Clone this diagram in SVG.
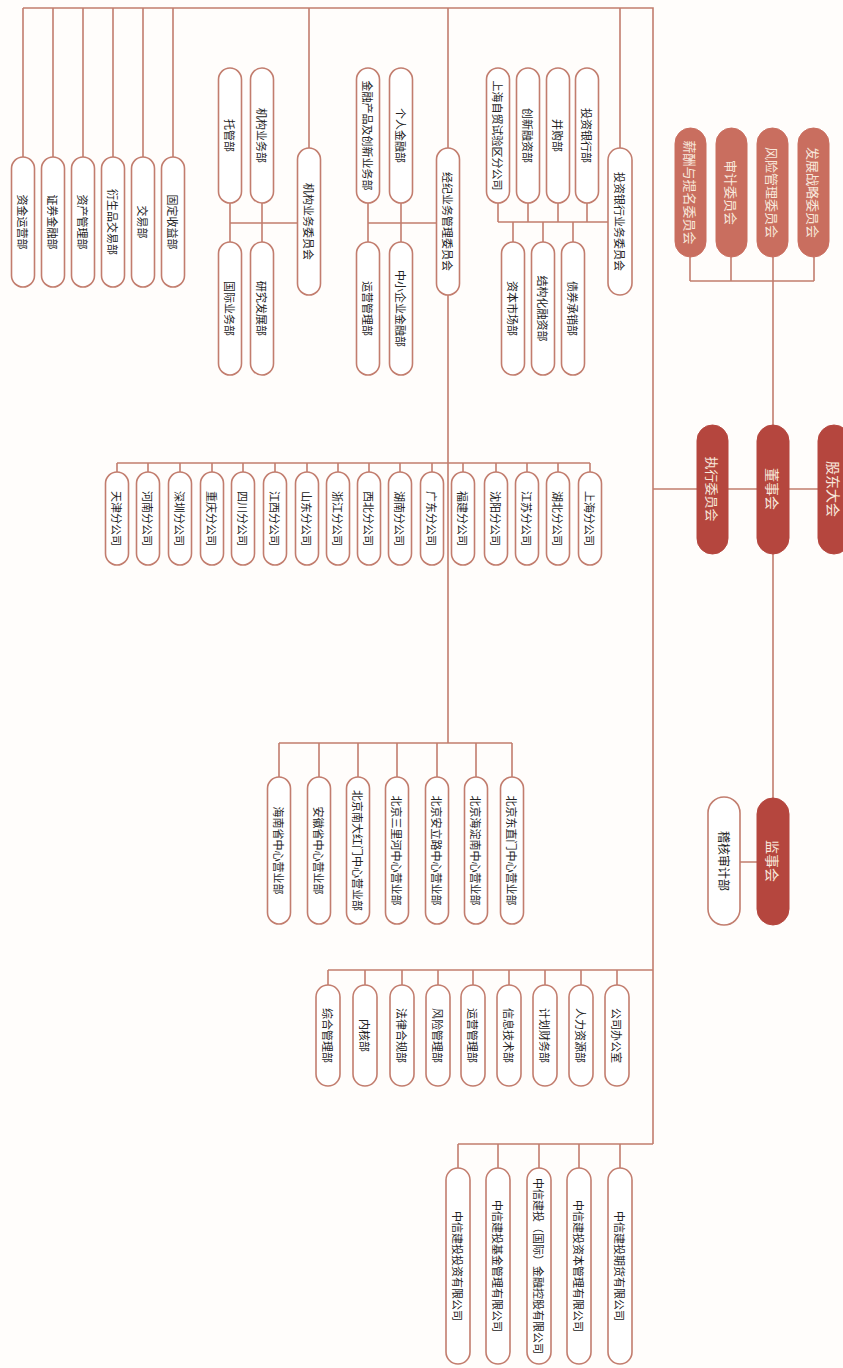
<svg xmlns="http://www.w3.org/2000/svg" width="843" height="1368" viewBox="0 0 843 1368">
<style>
.bg{fill:#fffdfb}
.ln{fill:none;stroke:#c27d6e;stroke-width:1.6}
.bx{fill:#ffffff;stroke:#c27d6e;stroke-width:1.6}
.dk{fill:#b5463e;stroke:#b5463e;stroke-width:1}
.md{fill:#c96e5f;stroke:#c96e5f;stroke-width:1}
.t{font-family:"Noto Sans CJK SC","Noto Sans CJK JP",sans-serif;font-size:11px;fill:#222;text-anchor:middle;dominant-baseline:central}
.tl{font-family:"Noto Sans CJK SC","Noto Sans CJK JP",sans-serif;font-size:13px;fill:#f8e8dc;text-anchor:middle;dominant-baseline:central}
.tb{font-family:"Noto Sans CJK SC","Noto Sans CJK JP",sans-serif;font-size:14px;fill:#f8e8dc;text-anchor:middle;dominant-baseline:central}
</style>
<rect class="bg" x="0" y="0" width="843" height="1368"/>
<g id="connectors">
<path class="ln" d="M23,8H653V1144"/>
<path class="ln" d="M23,8V157M53,8V157M83,8V157M113,8V157M143,8V157M173,8V157"/>
<path class="ln" d="M620,8V148M608,222H498M587,203V222M558,203V222M528,203V222M498,203V222M573,222V242M543,222V242M513,222V242"/>
<path class="ln" d="M448,8V148M448,295V743M437,223H368M401,203V242M368,203V242"/>
<path class="ln" d="M309,8V148M298,223H230M262,203V242M230,203V242"/>
<path class="ln" d="M117,463H590M117,463V472M148,463V472M180,463V472M212,463V472M243,463V472M275,463V472M307,463V472M338,463V472M369,463V472M400,463V472M432,463V472M463,463V472M496,463V472M527,463V472M558,463V472M590,463V472"/>
<path class="ln" d="M279,743H512M279,743V777M319,743V777M358,743V777M397,743V777M437,743V777M476,743V777M512,743V777"/>
<path class="ln" d="M328,970H653M328,970V985M365,970V985M402,970V985M438,970V985M473,970V985M509,970V985M545,970V985M581,970V985M617,970V985"/>
<path class="ln" d="M458,1144H653M458,1144V1168M498,1144V1168M539,1144V1168M579,1144V1168M620,1144V1168"/>
<path class="ln" d="M653,489H697M728,489H757M789,489H818"/>
<path class="ln" d="M773,281V425M773,554V798M740,862H757"/>
<path class="ln" d="M690,281H814M690,257V281M731,257V281M773,257V281M814,257V281"/>
</g>
<g id="n-gudong"><rect class="dk" x="818" y="425" width="32" height="129" rx="16"/><text class="tb" transform="translate(834,489) rotate(90)">股东大会</text></g>
<g id="n-dongshi"><rect class="dk" x="757" y="425" width="32" height="129" rx="16"/><text class="tb" transform="translate(773,489) rotate(90)">董事会</text></g>
<g id="n-zhixing"><rect class="dk" x="697" y="425" width="31" height="129" rx="15.5"/><text class="tl" transform="translate(712.5,489) rotate(90)">执行委员会</text></g>
<g id="n-jianshi"><rect class="dk" x="757" y="798" width="32" height="127" rx="16"/><text class="tb" transform="translate(773,861) rotate(90)">监事会</text></g>
<g id="n-jihe"><rect class="bx" x="708" y="797" width="32" height="128" rx="16"/><text class="t" style="font-size:12px" transform="translate(724,861) rotate(90)">稽核审计部</text></g>
<g id="n-c1"><rect class="md" x="675" y="128" width="31" height="129" rx="15.5"/><text class="tl" transform="translate(690.5,192.5) rotate(90)">薪酬与提名委员会</text></g>
<g id="n-c2"><rect class="md" x="716" y="128" width="31" height="129" rx="15.5"/><text class="tl" transform="translate(731.5,192.5) rotate(90)">审计委员会</text></g>
<g id="n-c3"><rect class="md" x="757" y="128" width="31" height="129" rx="15.5"/><text class="tl" transform="translate(772.5,192.5) rotate(90)">风险管理委员会</text></g>
<g id="n-c4"><rect class="md" x="798" y="128" width="31" height="129" rx="15.5"/><text class="tl" transform="translate(813.5,192.5) rotate(90)">发展战略委员会</text></g>
<g id="n-l1"><rect class="bx" x="11.5" y="157" width="23" height="130" rx="11.5"/><text class="t" transform="translate(23,222) rotate(90)">资金运营部</text></g>
<g id="n-l2"><rect class="bx" x="41.5" y="157" width="23" height="130" rx="11.5"/><text class="t" transform="translate(53,222) rotate(90)">证券金融部</text></g>
<g id="n-l3"><rect class="bx" x="71.5" y="157" width="23" height="130" rx="11.5"/><text class="t" transform="translate(83,222) rotate(90)">资产管理部</text></g>
<g id="n-l4"><rect class="bx" x="101.5" y="157" width="23" height="130" rx="11.5"/><text class="t" transform="translate(113,222) rotate(90)">衍生品交易部</text></g>
<g id="n-l5"><rect class="bx" x="131.5" y="157" width="23" height="130" rx="11.5"/><text class="t" transform="translate(143,222) rotate(90)">交易部</text></g>
<g id="n-l6"><rect class="bx" x="161.5" y="157" width="23" height="130" rx="11.5"/><text class="t" transform="translate(173,222) rotate(90)">固定收益部</text></g>
<g id="n-ib"><rect class="bx" x="608" y="148" width="24" height="147" rx="12"/><text class="t" transform="translate(620,221.5) rotate(90)">投资银行业务委员会</text></g>
<g id="n-ib1"><rect class="bx" x="575.5" y="68" width="23" height="135" rx="11.5"/><text class="t" transform="translate(587,135.5) rotate(90)">投资银行部</text></g>
<g id="n-ib2"><rect class="bx" x="546.5" y="68" width="23" height="135" rx="11.5"/><text class="t" transform="translate(558,135.5) rotate(90)">并购部</text></g>
<g id="n-ib3"><rect class="bx" x="516.5" y="68" width="23" height="135" rx="11.5"/><text class="t" transform="translate(528,135.5) rotate(90)">创新融资部</text></g>
<g id="n-ib4"><rect class="bx" x="486.5" y="68" width="23" height="135" rx="11.5"/><text class="t" transform="translate(498,135.5) rotate(90)">上海自贸试验区分公司</text></g>
<g id="n-ib5"><rect class="bx" x="561.5" y="242" width="23" height="133" rx="11.5"/><text class="t" transform="translate(573,308.5) rotate(90)">债券承销部</text></g>
<g id="n-ib6"><rect class="bx" x="531.5" y="242" width="23" height="133" rx="11.5"/><text class="t" transform="translate(543,308.5) rotate(90)">结构化融资部</text></g>
<g id="n-ib7"><rect class="bx" x="501.5" y="242" width="23" height="133" rx="11.5"/><text class="t" transform="translate(513,308.5) rotate(90)">资本市场部</text></g>
<g id="n-jj"><rect class="bx" x="436.5" y="148" width="23" height="147" rx="11.5"/><text class="t" transform="translate(448,221.5) rotate(90)">经纪业务管理委员会</text></g>
<g id="n-jj1"><rect class="bx" x="389.5" y="68" width="23" height="135" rx="11.5"/><text class="t" transform="translate(401,135.5) rotate(90)">个人金融部</text></g>
<g id="n-jj2"><rect class="bx" x="356.5" y="68" width="23" height="135" rx="11.5"/><text class="t" transform="translate(368,135.5) rotate(90)">金融产品及创新业务部</text></g>
<g id="n-jj3"><rect class="bx" x="389.5" y="242" width="23" height="133" rx="11.5"/><text class="t" transform="translate(401,308.5) rotate(90)">中小企业金融部</text></g>
<g id="n-jj4"><rect class="bx" x="356.5" y="242" width="23" height="133" rx="11.5"/><text class="t" transform="translate(368,308.5) rotate(90)">运营管理部</text></g>
<g id="n-jg"><rect class="bx" x="297.5" y="148" width="23" height="147" rx="11.5"/><text class="t" transform="translate(309,221.5) rotate(90)">机构业务委员会</text></g>
<g id="n-jg1"><rect class="bx" x="250.5" y="68" width="23" height="135" rx="11.5"/><text class="t" transform="translate(262,135.5) rotate(90)">机构业务部</text></g>
<g id="n-jg2"><rect class="bx" x="218.5" y="68" width="23" height="135" rx="11.5"/><text class="t" transform="translate(230,135.5) rotate(90)">托管部</text></g>
<g id="n-jg3"><rect class="bx" x="250.5" y="242" width="23" height="133" rx="11.5"/><text class="t" transform="translate(262,308.5) rotate(90)">研究发展部</text></g>
<g id="n-jg4"><rect class="bx" x="218.5" y="242" width="23" height="133" rx="11.5"/><text class="t" transform="translate(230,308.5) rotate(90)">国际业务部</text></g>
<g id="n-b1"><rect class="bx" x="578.5" y="472" width="23" height="93" rx="11.5"/><text class="t" transform="translate(590,518.5) rotate(90)">上海分公司</text></g>
<g id="n-b2"><rect class="bx" x="546.5" y="472" width="23" height="93" rx="11.5"/><text class="t" transform="translate(558,518.5) rotate(90)">湖北分公司</text></g>
<g id="n-b3"><rect class="bx" x="515.5" y="472" width="23" height="93" rx="11.5"/><text class="t" transform="translate(527,518.5) rotate(90)">江苏分公司</text></g>
<g id="n-b4"><rect class="bx" x="484.5" y="472" width="23" height="93" rx="11.5"/><text class="t" transform="translate(496,518.5) rotate(90)">沈阳分公司</text></g>
<g id="n-b5"><rect class="bx" x="451.5" y="472" width="23" height="93" rx="11.5"/><text class="t" transform="translate(463,518.5) rotate(90)">福建分公司</text></g>
<g id="n-b6"><rect class="bx" x="420.5" y="472" width="23" height="93" rx="11.5"/><text class="t" transform="translate(432,518.5) rotate(90)">广东分公司</text></g>
<g id="n-b7"><rect class="bx" x="388.5" y="472" width="23" height="93" rx="11.5"/><text class="t" transform="translate(400,518.5) rotate(90)">湖南分公司</text></g>
<g id="n-b8"><rect class="bx" x="357.5" y="472" width="23" height="93" rx="11.5"/><text class="t" transform="translate(369,518.5) rotate(90)">西北分公司</text></g>
<g id="n-b9"><rect class="bx" x="326.5" y="472" width="23" height="93" rx="11.5"/><text class="t" transform="translate(338,518.5) rotate(90)">浙江分公司</text></g>
<g id="n-b10"><rect class="bx" x="295.5" y="472" width="23" height="93" rx="11.5"/><text class="t" transform="translate(307,518.5) rotate(90)">山东分公司</text></g>
<g id="n-b11"><rect class="bx" x="263.5" y="472" width="23" height="93" rx="11.5"/><text class="t" transform="translate(275,518.5) rotate(90)">江西分公司</text></g>
<g id="n-b12"><rect class="bx" x="231.5" y="472" width="23" height="93" rx="11.5"/><text class="t" transform="translate(243,518.5) rotate(90)">四川分公司</text></g>
<g id="n-b13"><rect class="bx" x="200.5" y="472" width="23" height="93" rx="11.5"/><text class="t" transform="translate(212,518.5) rotate(90)">重庆分公司</text></g>
<g id="n-b14"><rect class="bx" x="168.5" y="472" width="23" height="93" rx="11.5"/><text class="t" transform="translate(180,518.5) rotate(90)">深圳分公司</text></g>
<g id="n-b15"><rect class="bx" x="136.5" y="472" width="23" height="93" rx="11.5"/><text class="t" transform="translate(148,518.5) rotate(90)">河南分公司</text></g>
<g id="n-b16"><rect class="bx" x="105.5" y="472" width="23" height="93" rx="11.5"/><text class="t" transform="translate(117,518.5) rotate(90)">天津分公司</text></g>
<g id="n-y1"><rect class="bx" x="500.5" y="777" width="23" height="147" rx="11.5"/><text class="t" transform="translate(512,850.5) rotate(90)">北京东直门中心营业部</text></g>
<g id="n-y2"><rect class="bx" x="464.5" y="777" width="23" height="147" rx="11.5"/><text class="t" transform="translate(476,850.5) rotate(90)">北京海淀南中心营业部</text></g>
<g id="n-y3"><rect class="bx" x="425.5" y="777" width="23" height="147" rx="11.5"/><text class="t" transform="translate(437,850.5) rotate(90)">北京安立路中心营业部</text></g>
<g id="n-y4"><rect class="bx" x="385.5" y="777" width="23" height="147" rx="11.5"/><text class="t" transform="translate(397,850.5) rotate(90)">北京三里河中心营业部</text></g>
<g id="n-y5"><rect class="bx" x="346.5" y="777" width="23" height="147" rx="11.5"/><text class="t" transform="translate(358,850.5) rotate(90)">北京南大红门中心营业部</text></g>
<g id="n-y6"><rect class="bx" x="307.5" y="777" width="23" height="147" rx="11.5"/><text class="t" transform="translate(319,850.5) rotate(90)">安徽省中心营业部</text></g>
<g id="n-y7"><rect class="bx" x="267.5" y="777" width="23" height="147" rx="11.5"/><text class="t" transform="translate(279,850.5) rotate(90)">海南省中心营业部</text></g>
<g id="n-f1"><rect class="bx" x="605" y="985" width="24" height="101" rx="12"/><text class="t" transform="translate(617,1035.5) rotate(90)">公司办公室</text></g>
<g id="n-f2"><rect class="bx" x="569" y="985" width="24" height="101" rx="12"/><text class="t" transform="translate(581,1035.5) rotate(90)">人力资源部</text></g>
<g id="n-f3"><rect class="bx" x="533" y="985" width="24" height="101" rx="12"/><text class="t" transform="translate(545,1035.5) rotate(90)">计划财务部</text></g>
<g id="n-f4"><rect class="bx" x="497" y="985" width="24" height="101" rx="12"/><text class="t" transform="translate(509,1035.5) rotate(90)">信息技术部</text></g>
<g id="n-f5"><rect class="bx" x="461" y="985" width="24" height="101" rx="12"/><text class="t" transform="translate(473,1035.5) rotate(90)">运营管理部</text></g>
<g id="n-f6"><rect class="bx" x="426" y="985" width="24" height="101" rx="12"/><text class="t" transform="translate(438,1035.5) rotate(90)">风险管理部</text></g>
<g id="n-f7"><rect class="bx" x="390" y="985" width="24" height="101" rx="12"/><text class="t" transform="translate(402,1035.5) rotate(90)">法律合规部</text></g>
<g id="n-f8"><rect class="bx" x="353" y="985" width="24" height="101" rx="12"/><text class="t" transform="translate(365,1035.5) rotate(90)">内核部</text></g>
<g id="n-f9"><rect class="bx" x="316" y="985" width="24" height="101" rx="12"/><text class="t" transform="translate(328,1035.5) rotate(90)">综合管理部</text></g>
<g id="n-s1"><rect class="bx" x="608" y="1168" width="24" height="196" rx="12"/><text class="t" transform="translate(620,1266) rotate(90)">中信建投期货有限公司</text></g>
<g id="n-s2"><rect class="bx" x="567" y="1168" width="24" height="196" rx="12"/><text class="t" transform="translate(579,1266) rotate(90)">中信建投资本管理有限公司</text></g>
<g id="n-s3"><rect class="bx" x="527" y="1168" width="24" height="196" rx="12"/><text class="t" transform="translate(539,1266) rotate(90)">中信建投（国际）金融控股有限公司</text></g>
<g id="n-s4"><rect class="bx" x="486" y="1168" width="24" height="196" rx="12"/><text class="t" transform="translate(498,1266) rotate(90)">中信建投基金管理有限公司</text></g>
<g id="n-s5"><rect class="bx" x="446" y="1168" width="24" height="196" rx="12"/><text class="t" transform="translate(458,1266) rotate(90)">中信建投投资有限公司</text></g>
</svg>
